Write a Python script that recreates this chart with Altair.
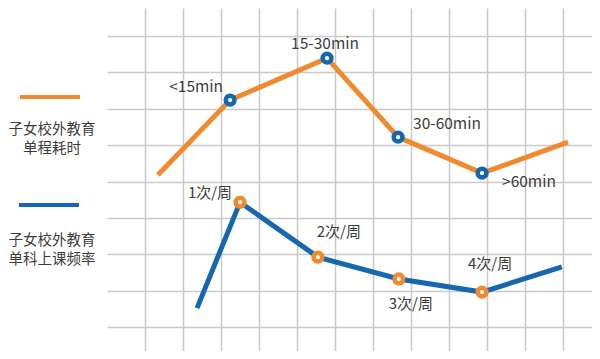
import altair as alt
import pandas as pd

# grid units
time_x = [0.34, 2.24, 4.79, 6.66, 8.87, 11.13]
time_y = [4.18, 6.24, 7.39, 5.22, 4.23, 5.08]
time_labels = ["", "<15min", "15-30min", "30-60min", ">60min", ""]
freq_x = [1.37, 2.50, 4.55, 6.68, 8.87, 10.97]
freq_y = [0.52, 3.43, 1.92, 1.32, 0.96, 1.65]
freq_labels = ["", "1次/周", "2次/周", "3次/周", "4次/周", ""]
legend_time = ["子女校外教育", "单程耗时"]
legend_freq = ["子女校外教育", "单科上课频率"]
grid_x = list(range(12))
grid_y = list(range(9))

ORANGE = "#ef8a2f"
BLUE = "#1567b0"
GRID = "#c9c9c9"
TEXT = "#3c3c3c"
FONT = "Noto Sans CJK SC"

time_df = pd.DataFrame({"x": time_x, "y": time_y, "label": time_labels, "i": range(6)})
freq_df = pd.DataFrame({"x": freq_x, "y": freq_y, "label": freq_labels, "i": range(6)})

axis_x = alt.Axis(values=grid_x, grid=True, labels=False, ticks=False, domain=False,
                  title=None, gridColor=GRID, gridWidth=1.5)
axis_y = alt.Axis(values=grid_y, grid=True, labels=False, ticks=False, domain=False,
                  title=None, gridColor=GRID, gridWidth=1.5)
X = alt.X("x:Q", scale=alt.Scale(domain=[-1, 11.763], nice=False, zero=False), axis=axis_x)
Y = alt.Y("y:Q", scale=alt.Scale(domain=[-0.66, 8.77], nice=False, zero=False), axis=axis_y)

def series(df, line_color, marker_color, offsets, size):
    layers = [
        alt.Chart(df).mark_line(color=line_color, strokeWidth=5, strokeCap="butt").encode(x=X, y=Y, order="i:Q"),
        alt.Chart(df).transform_filter("datum.label != ''").mark_point(
            shape="circle", size=76, filled=False, fill="white", fillOpacity=1,
            stroke=marker_color, strokeWidth=4.5, opacity=1).encode(x=X, y=Y),
    ]
    for idx, (dx, dy, align) in zip(range(1, 5), offsets):
        layers.append(
            alt.Chart(df).transform_filter(f"datum.i == {idx}").mark_text(
                dx=dx, dy=dy, align=align, baseline="middle", font=FONT,
                fontSize=size, color=TEXT).encode(x=X, y=Y, text="label:N")
        )
    return layers

time_offsets = [(-34, -13, "center"), (-2, -14, "center"), (15, -13, "left"), (20, 9, "left")]
freq_offsets = [(-30, -9, "center"), (21, -25, "center"), (12, 25, "center"), (8, -28, "center")]

one = alt.Data(values=[{"a": 1}])
legend = [
    alt.Chart(one).mark_rule(color=ORANGE, strokeWidth=4).encode(
        x=alt.value(-87), x2=alt.value(-27), y=alt.value(89)),
    alt.Chart(one).mark_text(text=legend_time, lineHeight=19, align="center", baseline="middle",
                             font=FONT, fontSize=14.5, color=TEXT).encode(
        x=alt.value(-55), y=alt.value(122)),
    alt.Chart(one).mark_rule(color=BLUE, strokeWidth=4).encode(
        x=alt.value(-88), x2=alt.value(-28), y=alt.value(197)),
    alt.Chart(one).mark_text(text=legend_freq, lineHeight=19, align="center", baseline="middle",
                             font=FONT, fontSize=14.5, color=TEXT).encode(
        x=alt.value(-55), y=alt.value(233)),
]

chart = alt.layer(
    *series(time_df, ORANGE, BLUE, time_offsets, 15.5),
    *series(freq_df, BLUE, ORANGE, freq_offsets, 15),
    *legend,
).properties(
    width=485, height=343,
    autosize=alt.AutoSizeParams(type="none"),
    padding={"left": 99, "top": 0, "right": 0, "bottom": 0},
).configure_view(stroke=None)

chart.save("out.html", embed_options={"renderer": "svg", "actions": False})
